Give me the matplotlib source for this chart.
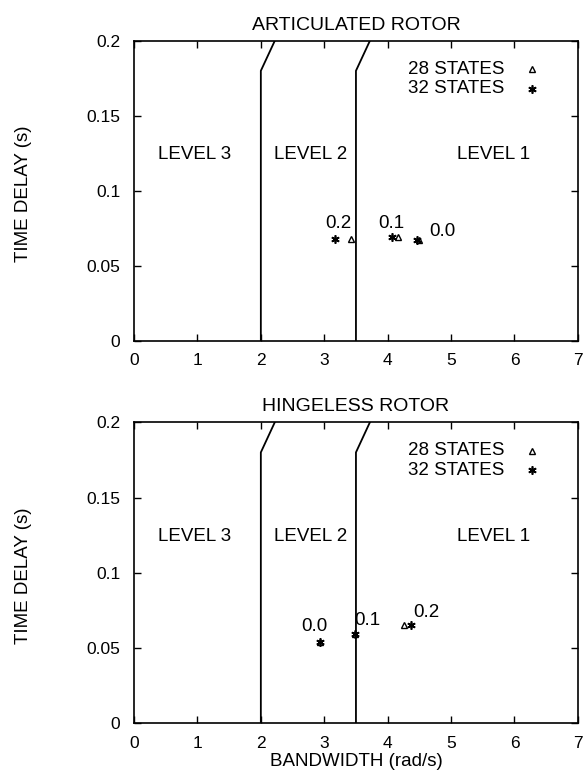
import matplotlib
matplotlib.use("Agg")
import matplotlib.pyplot as plt

plt.rcParams['font.family'] = ['Liberation Sans', 'DejaVu Sans']

# level boundaries (bandwidth, time delay)
bound_23_x = [2.0, 2.0, 2.22]
bound_12_x = [3.5, 3.5, 3.72]
bound_y = [0.0, 0.18, 0.2]

gains = ['0.2', '0.1', '0.0']

# articulated rotor
art_28_bw = [3.42, 4.17, 4.49]
art_28_td = [0.068, 0.069, 0.067]
art_32_bw = [3.17, 4.07, 4.47]
art_32_td = [0.068, 0.069, 0.067]
art_lbl_x = [3.22, 4.06, 4.87]
art_lbl_y = [0.078, 0.078, 0.073]

# hingeless rotor
hin_28_bw = [4.25, 3.49, 2.94]
hin_28_td = [0.0655, 0.059, 0.054]
hin_32_bw = [4.37, 3.49, 2.94]
hin_32_td = [0.0655, 0.059, 0.054]
hin_lbl_x = [4.61, 3.68, 2.84]
hin_lbl_y = [0.0735, 0.0686, 0.0642]

FS = 13.5
TICK_FS = 12.5
star = (6, 2, 0)


def draw_panel(ax, title, bw28, td28, bw32, td32, lx, ly):
    ax.plot(bound_23_x, bound_y, color='k', lw=1.3)
    ax.plot(bound_12_x, bound_y, color='k', lw=1.3)
    ax.plot(bw28, td28, linestyle='none', marker='^', ms=5, mfc='none', mec='k', mew=1.0)
    ax.plot(bw32, td32, linestyle='none', marker=star, ms=6, color='k', mew=1.2)
    for g, x, y in zip(gains, lx, ly):
        ax.text(x, y, g, ha='center', va='center', fontsize=FS)
    ax.text(0.95, 0.124, 'LEVEL 3', ha='center', va='center', fontsize=FS)
    ax.text(2.78, 0.124, 'LEVEL 2', ha='center', va='center', fontsize=FS)
    ax.text(5.67, 0.124, 'LEVEL 1', ha='center', va='center', fontsize=FS)
    # key
    ax.text(5.84, 0.181, '28 STATES', ha='right', va='center', fontsize=FS)
    ax.text(5.84, 0.168, '32 STATES', ha='right', va='center', fontsize=FS)
    ax.plot([6.27], [0.181], marker='^', ms=5, mfc='none', mec='k', mew=1.0)
    ax.plot([6.27], [0.168], marker=star, ms=6, color='k', mew=1.2)
    ax.set_xlim(0, 7)
    ax.set_ylim(0, 0.2)
    ax.set_xticks(range(8))
    ax.set_yticks([0, 0.05, 0.1, 0.15, 0.2])
    ax.set_yticklabels(['0', '0.05', '0.1', '0.15', '0.2'])
    ax.tick_params(direction='in', top=True, right=True, length=5, width=1,
                   labelsize=TICK_FS)
    ax.tick_params(axis='x', pad=9)
    ax.tick_params(axis='y', pad=10)
    for s in ax.spines.values():
        s.set_linewidth(1.2)
    ax.set_title(title, fontsize=14, pad=8)
    ax.set_ylabel('TIME DELAY (s)', fontsize=FS, va='center')
    ax.yaxis.set_label_coords(-0.248, 0.49)


fig = plt.figure(figsize=(5.84, 7.73), dpi=100)
ax1 = fig.add_axes([0.2295, 0.5592, 0.760, 0.388])
ax2 = fig.add_axes([0.2295, 0.0643, 0.760, 0.3894])

draw_panel(ax1, 'ARTICULATED ROTOR', art_28_bw, art_28_td, art_32_bw, art_32_td,
           art_lbl_x, art_lbl_y)
draw_panel(ax2, 'HINGELESS ROTOR', hin_28_bw, hin_28_td, hin_32_bw, hin_32_td,
           hin_lbl_x, hin_lbl_y)
ax2.set_xlabel('BANDWIDTH (rad/s)', fontsize=FS, va='center')
ax2.xaxis.set_label_coords(0.5, -0.127)

fig.savefig('out.png', dpi=100)
